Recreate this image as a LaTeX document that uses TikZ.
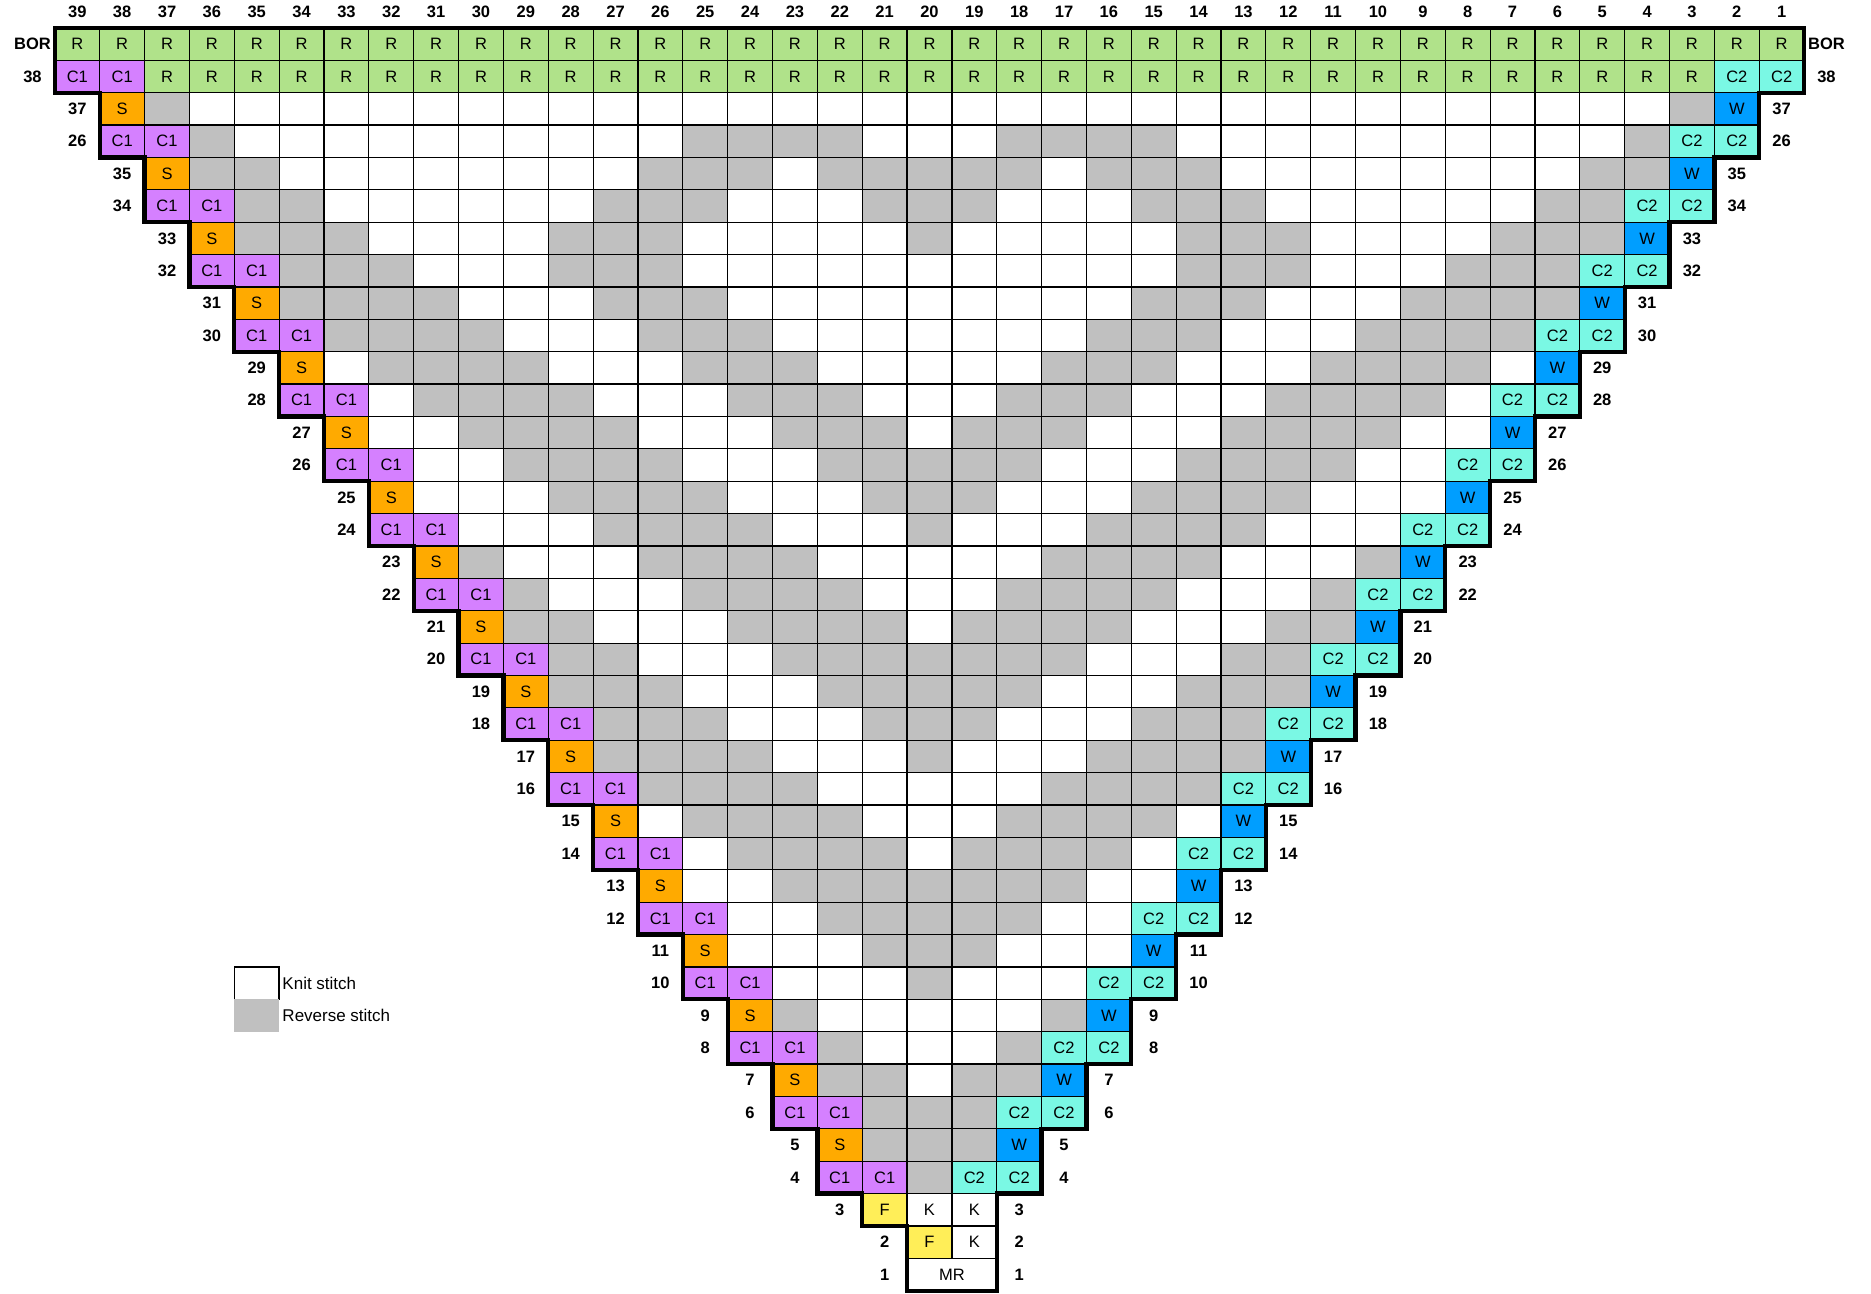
\documentclass[tikz,border=0pt]{standalone}
\usepackage{fontspec}
\setmainfont{Liberation Sans}
\definecolor{cR}{HTML}{B0E28A}
\definecolor{cCa}{HTML}{D580FF}
\definecolor{cS}{HTML}{FFAA00}
\definecolor{cCb}{HTML}{7AF8E4}
\definecolor{cW}{HTML}{009EFF}
\definecolor{cF}{HTML}{FFEE58}
\definecolor{cG}{HTML}{C0C0C0}
\begin{document}
\begin{tikzpicture}[x=44.85pt,y=-32.38pt,
  gl/.style={draw=black,line width=1.2pt},
  outline/.style={draw=black,line width=4.3pt,line join=miter},
  txt/.style={font=\fontsize{16.5}{18}\selectfont,inner sep=0pt},
  lbl/.style={font=\fontsize{16.5}{18}\selectfont\bfseries,inner sep=0pt},
  leg/.style={font=\fontsize{17}{19}\selectfont,inner sep=0pt,anchor=west}]
\useasboundingbox[fill=white] (-1.22408,-0.86164) rectangle (40.4928,39.0704);
% ---------- fills ----------
\foreach \i in {0,...,38} {\fill[cR] (\i,0) rectangle ++(1,1);}
\foreach \i in {2,...,36} {\fill[cR] (\i,1) rectangle ++(1,1);}
\fill[cCa] (0,1) rectangle (2,2);
\fill[cCb] (37,1) rectangle (39,2);
\foreach \k in {2,...,18} {
  \pgfmathtruncatemacro\jo{38-2*\k}
  \pgfmathtruncatemacro\je{39-2*\k}
  \pgfmathtruncatemacro\a{19-\k}
  \pgfmathtruncatemacro\b{18+\k}
  \pgfmathtruncatemacro\bb{19+\k}
  \fill[cS] (\a,\jo) rectangle ++(1,1);
  \fill[cW] (\bb,\jo) rectangle ++(1,1);
  \fill[cCa] (\a,\je) rectangle ++(2,1);
  \fill[cCb] (\b,\je) rectangle ++(2,1);
}
\fill[cF] (18,36) rectangle ++(1,1);
\fill[cF] (19,37) rectangle ++(1,1);
\foreach \r/\g in {4/{0},5/{0,1},6/{0,1},7/{1,2},8/{2},9/{3},10/{0},11/{0,1},12/{0,1,2},
  13/{0,1,2,3},14/{1,2,3,4},15/{2,3,4,5},16/{3,4,5,6},17/{0,4,5,6,7},18/{0,1,5,6,7},
  19/{0,1,2,6,7,8},20/{0,1,2,3,7,8},21/{1,2,3,4,8,9},22/{2,3,4,5,9},23/{3,4,5,6,10},
  24/{0,4,5,6,7},25/{0,1,5,6,7,8},26/{0,1,2,6,7,8,9},27/{1,2,3,7,8,9,10},
  28/{2,3,4,8,9,10,11},29/{3,4,5,9,10,11,12},30/{4,5,6,10,11,12,13},
  31/{5,6,7,11,12,13,14},32/{6,7,8,12,13,14},33/{0,6,7,8,13,14,15},
  34/{0,1,5,6,7,14,15},35/{0,1,2,4,5,6,15,16},36/{2,3,4,5,16},37/{17}} {
  \pgfmathtruncatemacro\j{39-\r}
  \foreach \d in \g {
    \fill[cG] (19-\d,\j) rectangle ++(1,1);
    \fill[cG] (19+\d,\j) rectangle ++(1,1);
  }
}
% ---------- thin grid ----------
\foreach \j in {0,1} {\foreach \i in {0,...,38} {\draw[gl] (\i,\j) rectangle ++(1,1);}}
\foreach \k in {2,...,18} {
  \pgfmathtruncatemacro\jo{38-2*\k}
  \pgfmathtruncatemacro\je{39-2*\k}
  \pgfmathtruncatemacro\a{19-\k}
  \pgfmathtruncatemacro\bb{19+\k}
  \foreach \i in {\a,...,\bb} {
    \draw[gl] (\i,\jo) rectangle ++(1,1);
    \draw[gl] (\i,\je) rectangle ++(1,1);
  }
}
\foreach \i in {18,19,20} {\draw[gl] (\i,36) rectangle ++(1,1);}
\foreach \i in {19,20} {\draw[gl] (\i,37) rectangle ++(1,1);}
\draw[gl] (19,38) rectangle (21,39);
% ---------- thick outline ----------
\draw[outline] (0,0) -- (39,0) -- (39,2) -- (38,2) -- (38,4) -- (37,4) -- (37,6) -- (36,6)
  -- (36,8) -- (35,8) -- (35,10) -- (34,10) -- (34,12) -- (33,12) -- (33,14) -- (32,14)
  -- (32,16) -- (31,16) -- (31,18) -- (30,18) -- (30,20) -- (29,20) -- (29,22) -- (28,22)
  -- (28,24) -- (27,24) -- (27,26) -- (26,26) -- (26,28) -- (25,28) -- (25,30) -- (24,30)
  -- (24,32) -- (23,32) -- (23,34) -- (22,34) -- (22,36) -- (21,36) -- (21,39) -- (19,39)
  -- (19,37) -- (18,37) -- (18,36) -- (17,36) -- (17,34) -- (16,34) -- (16,32) -- (15,32)
  -- (15,30) -- (14,30) -- (14,28) -- (13,28) -- (13,26) -- (12,26) -- (12,24) -- (11,24)
  -- (11,22) -- (10,22) -- (10,20) -- (9,20) -- (9,18) -- (8,18) -- (8,16) -- (7,16)
  -- (7,14) -- (6,14) -- (6,12) -- (5,12) -- (5,10) -- (4,10) -- (4,8) -- (3,8)
  -- (3,6) -- (2,6) -- (2,4) -- (1,4) -- (1,2) -- (0,2) -- cycle;
% ---------- texts ----------
\foreach \i in {0,...,38} {
  \pgfmathtruncatemacro\c{39-\i}
  \node[lbl] (h\c) at (\i+.5,-.5) {\c};
  \node[txt] (bor\c) at (\i+.5,.5) {R};
}
\foreach \i in {2,...,36} {
  \pgfmathtruncatemacro\c{39-\i}
  \node[txt] (r38c\c) at (\i+.5,1.5) {R};
}
\node[txt] (r38c39) at (0.5,1.5) {C1};
\node[txt] (r38c38) at (1.5,1.5) {C1};
\node[txt] (r38c2) at (37.5,1.5) {C2};
\node[txt] (r38c1) at (38.5,1.5) {C2};
\node[lbl] (borL) at (-.5,.5) {BOR};
\node[lbl] (borR) at (39.5,.5) {BOR};
\node[lbl] (l38) at (-.5,1.5) {38};
\node[lbl] (r38) at (39.5,1.5) {38};
\foreach \k in {2,...,18} {
  \pgfmathtruncatemacro\jo{38-2*\k}
  \pgfmathtruncatemacro\je{39-2*\k}
  \pgfmathtruncatemacro\ro{2*\k+1}
  \pgfmathtruncatemacro\re{2*\k}
  \ifnum\k=18 \def\rtxt{26}\else \edef\rtxt{\re}\fi
  \node[txt] (s\ro) at (19.5-\k,\jo+.5) {S};
  \node[txt] (w\ro) at (19.5+\k,\jo+.5) {W};
  \node[txt] (ca\re) at (19.5-\k,\je+.5) {C1};
  \node[txt] (cb\re) at (20.5-\k,\je+.5) {C1};
  \node[txt] (cc\re) at (18.5+\k,\je+.5) {C2};
  \node[txt] (cd\re) at (19.5+\k,\je+.5) {C2};
  \node[lbl] (ll\ro) at (18.5-\k,\jo+.5) {\ro};
  \node[lbl] (rl\ro) at (20.5+\k,\jo+.5) {\ro};
  \node[lbl] (ll\re) at (18.5-\k,\je+.5) {\rtxt};
  \node[lbl] (rl\re) at (20.5+\k,\je+.5) {\rtxt};
}
\node[txt] (f3) at (18.5,36.5) {F};
\node[txt] (k3a) at (19.5,36.5) {K};
\node[txt] (k3b) at (20.5,36.5) {K};
\node[txt] (f2) at (19.5,37.5) {F};
\node[txt] (k2) at (20.5,37.5) {K};
\node[txt] (mr) at (20,38.5) {MR};
\node[lbl] (ll3) at (17.5,36.5) {3};
\node[lbl] (rl3) at (21.5,36.5) {3};
\node[lbl] (ll2) at (18.5,37.5) {2};
\node[lbl] (rl2) at (21.5,37.5) {2};
\node[lbl] (ll1) at (18.5,38.5) {1};
\node[lbl] (rl1) at (21.5,38.5) {1};
% ---------- legend ----------
\draw[line width=1.5pt,fill=white] (4,29) rectangle (5,30);
\fill[cG] (4,30) rectangle (5,31);
\node[leg] (knit) at (5.07,29.5) {Knit stitch};
\node[leg] (rev) at (5.07,30.5) {Reverse stitch};
\end{tikzpicture}
\end{document}
